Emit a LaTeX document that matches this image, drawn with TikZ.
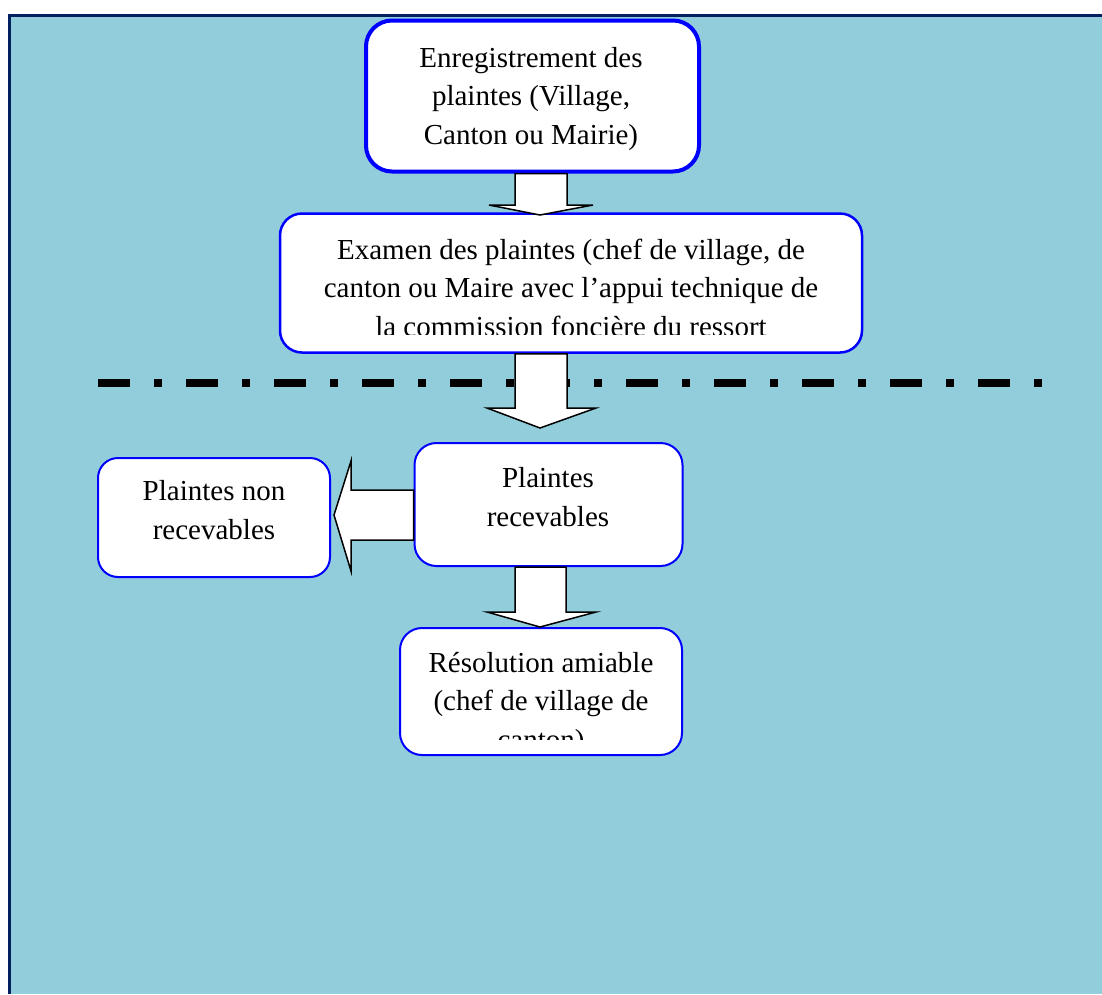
\documentclass[tikz,border=0pt]{standalone}
\usepackage{fontspec}
\setmainfont{Liberation Serif}
\definecolor{bgblue}{HTML}{92CDDB}
\definecolor{navy}{HTML}{002060}
\definecolor{boxblue}{HTML}{0000FF}
\begin{document}
\begin{tikzpicture}[x=1pt,y=-1pt,
  box/.style={draw=boxblue, fill=white, rounded corners=22pt, line width=2pt, inner sep=0pt},
  txt/.style={align=center, anchor=base, inner sep=0pt, font=\fontsize{29}{38.5}\selectfont},
  blockarrow/.style={draw=black, fill=white, line width=1.5pt, line join=miter}]
\useasboundingbox (0,0) rectangle (1102,994);
% background and frame
\fill[bgblue] (8,14) rectangle (1102,994);
\fill[navy] (8,14) rectangle (1102,17);
\fill[navy] (8,14) rectangle (11,994);

% boxes
\node[box, line width=4pt, rounded corners=26pt, minimum width=333pt, minimum height=151pt] (b1) at (532.5,96) {};
\node[txt] (b1t) at (531,144) {Enregistrement des\\plaintes (Village,\\Canton ou Mairie)};

\node[box, line width=2.5pt, minimum width=582pt, minimum height=139pt] (b2) at (571,283) {};
\begin{scope}
\clip (280,215) rectangle (862,334);
\node[txt] (b2t) at (571,336) {Examen des plaintes (chef de village, de\\canton ou Maire avec l’appui technique de\\la commission foncière du ressort};
\end{scope}

\node[box, minimum width=268pt, minimum height=123pt] (b3) at (548.5,504.5) {};
\node[txt] (b3t) at (548,526) {Plaintes\\recevables};

\node[box, rounded corners=20pt, minimum width=232pt, minimum height=119pt] (b4) at (214,517.5) {};
\node[txt] (b4t) at (214,539) {Plaintes non\\recevables};

\node[box, minimum width=282pt, minimum height=127pt] (b5) at (541,691.5) {};
\begin{scope}
\clip (401,630) rectangle (681,739);
\node[txt] (b5t) at (541,749) {Résolution amiable\\(chef de village de\\canton)};
\end{scope}

% dash-dot separator
\coordinate (sepL) at (98,383);
\coordinate (sepR) at (1046,383);
\draw[line width=8pt, dash pattern=on 32pt off 24pt on 8pt off 24pt] (sepL) -- (sepR);

% block arrows
\draw[blockarrow] (515,0 |- b1.south) -- (515,205) -- (489,205) -- (540,215) -- (593,205) -- (567,205) -- (567,0 |- b1.south) -- cycle;
\draw[blockarrow] (515,0 |- b2.south) -- (515,408) -- (487,408) -- (540,428) -- (596,408) -- (567,408) -- (567,0 |- b2.south) -- cycle;
\draw[blockarrow] (b3.west |- 0,490) -- (351,490) -- (351,461) -- (334,515) -- (351,571) -- (351,540) -- (b3.west |- 0,540) -- cycle;
\draw[blockarrow] (515,0 |- b3.south) -- (515,612) -- (487,612) -- (540,627) -- (596,612) -- (566,612) -- (566,0 |- b3.south) -- cycle;
\end{tikzpicture}
\end{document}
